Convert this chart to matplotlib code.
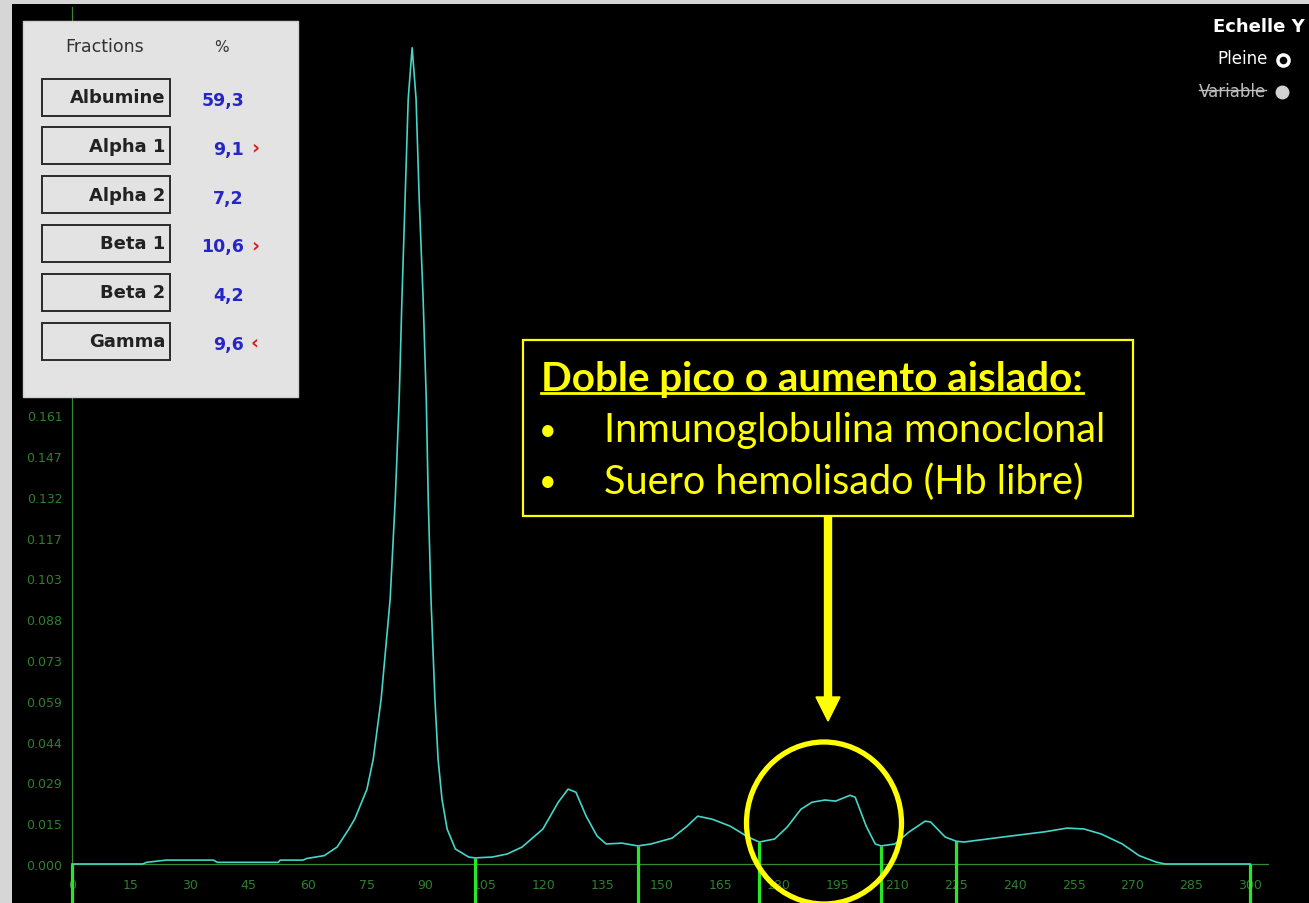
import numpy as np
import matplotlib
matplotlib.use('Agg')
import matplotlib.pyplot as plt
from matplotlib.patches import Rectangle, Ellipse, FancyArrow

# densitometry trace (mobility, absorbance)
mobility = [0, 18, 19, 24, 36, 37, 52.5, 53, 58.8, 59.8, 64.2, 67.5, 70.5, 72,
            75.1, 76.7, 78.7, 81.0, 82.3, 83.3, 84.0, 84.8, 85.6, 86.6,
            87.6, 88.4, 89.4, 90.2, 90.7, 91.4, 92.4, 93.2, 94.2, 95.5, 97.6,
            101, 102.6,
            107, 110.8, 114.6, 119.9, 123.8, 126.3, 128.3, 130.9, 133.7, 136,
            140, 144.1, 147.4, 152.8, 156.6, 159.3, 163, 167.6, 172.1, 175,
            178.9, 182.1, 185.6, 188.4, 191.7, 194.4, 198.1, 199.4, 202.2,
            204.5, 206, 209.5, 213.1, 217.2, 218.6, 222.3, 225.1, 227.1, 237,
            247.8, 253.3, 257.6, 262, 267.4, 271.7, 276, 278.3, 300]
absorb = [0, 0, 0.0006, 0.0014, 0.0014, 0.0006, 0.0006, 0.0014, 0.0014, 0.002,
          0.003, 0.0061, 0.0126, 0.0162, 0.0269, 0.0377, 0.0592, 0.0952,
          0.131, 0.167, 0.203, 0.239, 0.275, 0.2934,
          0.275, 0.239, 0.203, 0.167, 0.131, 0.0952, 0.0592, 0.0377, 0.0233,
          0.0126, 0.0054, 0.0025, 0.0022, 0.0025,
          0.0036, 0.0061, 0.0126, 0.0222, 0.0269, 0.0258, 0.0172, 0.0100,
          0.0072, 0.0075, 0.0065, 0.0072, 0.0093, 0.0136, 0.0172, 0.0161,
          0.0136, 0.0097, 0.0079, 0.0090, 0.0133, 0.0197, 0.0222, 0.0230,
          0.0226, 0.0247, 0.0240, 0.0136, 0.0072, 0.0065, 0.0072, 0.0115,
          0.0154, 0.0151, 0.0097, 0.0082, 0.0079, 0.0097, 0.0116, 0.0129,
          0.0126, 0.0108, 0.0072, 0.0030, 0.0007, 0, 0]

# fraction limits
cuts = [0, 102.6, 144.1, 175, 206, 225.1, 300]

fractions = ['Albumine', 'Alpha 1', 'Alpha 2', 'Beta 1', 'Beta 2', 'Gamma']
percents = ['59,3', '9,1', '7,2', '10,6', '4,2', '9,6']
flags = ['', '\u203a', '', '\u203a', '', '\u2039']

xticks = list(range(0, 301, 15))
ystep = 0.014665
yticks = [i * ystep for i in range(21)]

note_title = 'Doble pico o aumento aislado:'
note_items = ['Inmunoglobulina monoclonal', 'Suero hemolisado (Hb libre)']

W, H = 1309, 904
PXY = 40.8 / ystep  # pixels per absorbance unit

fig = plt.figure(figsize=(W / 100, H / 100), dpi=100, facecolor='#d6d6d6')
fig.patches.append(Rectangle((12 / W, 0), 1, (H - 5) / H, transform=fig.transFigure,
                             facecolor='black', edgecolor='none', zorder=-5))

# main plot, pixel geometry: x0 at 72, baseline at 865
ax = fig.add_axes([72 / W, (H - 865) / H, (1268 - 72) / W, (865 - 8) / H])
ax.set_facecolor('black')
ax.set_xlim(0, 304.5)
ax.set_ylim(0, 857 / PXY)

dim = '#2f7f2f'
for s in ['top', 'right']:
    ax.spines[s].set_visible(False)
for s in ['left', 'bottom']:
    ax.spines[s].set_color('#338a33')
    ax.spines[s].set_linewidth(0.9)

ax.set_xticks(xticks)
ax.set_xticklabels([str(t) for t in xticks])
ax.set_yticks(yticks)
ax.set_yticklabels(['%.3f' % t for t in yticks])
ax.tick_params(axis='x', length=0, pad=10, labelsize=9, labelcolor=dim)
ax.tick_params(axis='y', length=0, pad=7, labelsize=9, labelcolor=dim)

cut_h = np.interp(cuts, mobility, absorb)
ax.vlines(cuts, -39 / PXY, cut_h, colors='#27e827', linewidth=2.3,
          clip_on=False, zorder=4)
ax.plot(mobility, absorb, color='#45d6c8', linewidth=1.2, zorder=5, clip_on=False)

# overlay in pixel coordinates for the software panel and the annotation
ov = fig.add_axes([0, 0, 1, 1])
ov.set_xlim(0, W)
ov.set_ylim(H, 0)
ov.axis('off')
ov.patch.set_alpha(0)

ov.add_patch(Rectangle((23, 22), 275, 376, facecolor='#e3e3e3', edgecolor='#cfcfcf', lw=1))
ov.text(105, 47, 'Fractions', ha='center', va='center', fontsize=12.5, color='#333333')
ov.text(221, 47, '%', ha='center', va='center', fontsize=11, color='#333333')
for i, name in enumerate(fractions):
    yc = 98 + i * 48.8
    ov.add_patch(Rectangle((42, yc - 18.5), 128, 37, facecolor='#e3e3e3',
                           edgecolor='#2a2a2a', lw=1.4))
    ov.text(165, yc, name, ha='right', va='center', fontsize=13,
            fontweight='bold', color='#222222')
    ov.text(244, yc + 3, percents[i], ha='right', va='center', fontsize=12.5,
            fontweight='bold', color='#2626c8')
    if flags[i]:
        ov.text(251, yc + 1, flags[i], ha='left', va='center', fontsize=14,
                fontweight='bold', color='#d92020')

ov.text(1305, 27, 'Echelle Y', ha='right', va='center', fontsize=13,
        fontweight='bold', color='white')
ov.text(1268, 59, 'Pleine', ha='right', va='center', fontsize=12, color='white')
ov.plot([1283], [61], marker='o', ms=8, mfc='black', mec='white', mew=2.5)
var_t = ov.text(1266, 92, 'Variable', ha='right', va='center', fontsize=12,
                color='#bcbcbc')
ov.plot([1282], [93], marker='o', ms=9, color='#d2d2d2')

# yellow callout
yel = '#ffff00'
ov.add_patch(Rectangle((523, 341), 610, 176, facecolor='black', edgecolor=yel, lw=1.6))
title_t = ov.text(541, 380, note_title, ha='left', va='center', fontsize=24,
                  fontweight='bold', color=yel, family='Lato')
item_ts = []
for k, item in enumerate(note_items):
    yy = 431 + k * 51
    ov.text(548, yy, '\u2022', ha='center', va='center', fontsize=22, color=yel,
            family='Lato')
    item_ts.append(ov.text(604, yy, item, ha='left', va='center', fontsize=24,
                           color=yel, family='Lato'))

# fit callout text widths to the reference
fig.canvas.draw()
r = fig.canvas.get_renderer()
def fit(t, target):
    w = t.get_window_extent(r).width
    t.set_fontsize(t.get_fontsize() * target / w)
fit(title_t, 542)
fit(item_ts[0], 504)
fit(item_ts[1], 481)
fig.canvas.draw()
bb = title_t.get_window_extent(r)
ov.plot([541, 541 + bb.width], [394, 394], color=yel, lw=2)
vb = var_t.get_window_extent(r)
ov.plot([1266 - vb.width, 1266], [91, 91], color='#bcbcbc', lw=1)

ov.add_patch(FancyArrow(828, 517, 0, 205, width=7, head_width=24, head_length=24,
                        length_includes_head=True, color=yel))
ov.add_patch(Ellipse((824, 824), 155, 162, fill=False, edgecolor=yel, lw=3.8))

fig.savefig('out.png', dpi=100, facecolor=fig.get_facecolor())
